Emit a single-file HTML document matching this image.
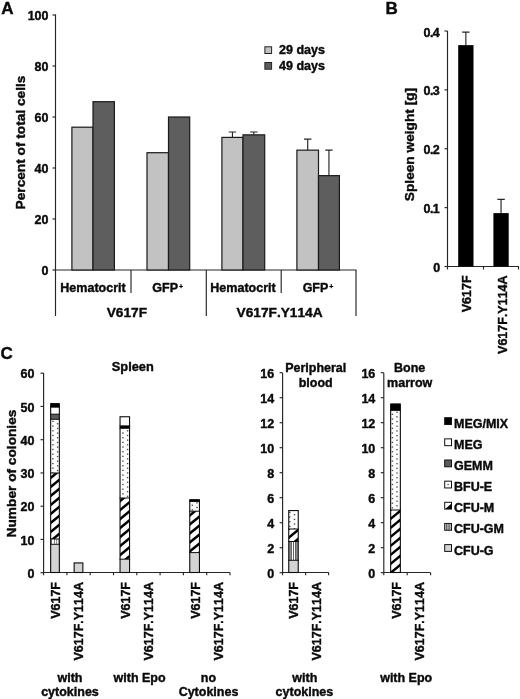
<!DOCTYPE html>
<html><head><meta charset="utf-8"><title>Figure</title>
<style>
html,body{margin:0;padding:0;background:#fff;}
body{width:520px;height:699px;overflow:hidden;}
svg{display:block;will-change:transform;}
text{font-family:"Liberation Sans",sans-serif;font-weight:bold;fill:#0a0a0a;stroke:#0a0a0a;stroke-width:0.4px;stroke-linejoin:round;font-kerning:none;}
.t{font-size:12.5px;}
.c{font-size:12.5px;}
.y{font-size:13.7px;}
.p{font-size:17px;}
.ax{stroke:#262626;stroke-width:1.15;fill:none;}
</style></head><body>
<svg width="520" height="699" viewBox="0 0 520 699">

<rect width="520" height="699" fill="#fff"/>

<text class="p" x="1.2" y="13.5">A</text>
<path class="ax" d="M55.5,14.5 V316"/>
<path class="ax" d="M55.5,270.0 H356.5"/>
<path class="ax" d="M52.5,270.0 H55.5"/>
<text class="t" x="48.5" y="275.2" text-anchor="end">0</text>
<path class="ax" d="M52.5,219.0 H55.5"/>
<text class="t" x="48.5" y="224.2" text-anchor="end">20</text>
<path class="ax" d="M52.5,168.0 H55.5"/>
<text class="t" x="48.5" y="173.2" text-anchor="end">40</text>
<path class="ax" d="M52.5,117.0 H55.5"/>
<text class="t" x="48.5" y="122.2" text-anchor="end">60</text>
<path class="ax" d="M52.5,66.0 H55.5"/>
<text class="t" x="48.5" y="71.2" text-anchor="end">80</text>
<path class="ax" d="M52.5,15.000000000000028 H55.5"/>
<text class="t" x="48.5" y="20.200000000000028" text-anchor="end">100</text>
<text class="y" transform="translate(24.9,142.5) rotate(-90)" text-anchor="middle">Percent of total cells</text>
<path class="ax" d="M131,270 V293 M206.3,270 V316 M281.2,270 V293 M356,270 V316"/>
<text class="c" x="93" y="291.5" text-anchor="middle">Hematocrit</text>
<text class="c" x="243" y="291.5" text-anchor="middle">Hematocrit</text>
<text class="c" x="165.2" y="291.5" text-anchor="middle">GFP</text>
<text class="c" style="font-size:7px;stroke-width:0.3px" x="179.0" y="289">+</text>
<text class="c" x="315.5" y="291.5" text-anchor="middle">GFP</text>
<text class="c" style="font-size:7px;stroke-width:0.3px" x="329.3" y="289">+</text>
<text class="c" style="font-size:13.7px" x="126.9" y="317.2" text-anchor="middle">V617F</text>
<text class="c" style="font-size:13.7px" x="279.6" y="317.2" text-anchor="middle">V617F.Y114A</text>
<rect x="71.9" y="127.20000000000002" width="21.10" height="142.79999999999998" fill="#c2c2c2" stroke="#1a1a1a" stroke-width="1.2"/>
<rect x="93.0" y="101.70000000000002" width="21.40" height="168.29999999999998" fill="#5e5e5e" stroke="#1a1a1a" stroke-width="1.2"/>
<rect x="147.0" y="152.7" width="21.50" height="117.30000000000001" fill="#c2c2c2" stroke="#1a1a1a" stroke-width="1.2"/>
<rect x="168.5" y="117.0" width="21.20" height="153.0" fill="#5e5e5e" stroke="#1a1a1a" stroke-width="1.2"/>
<path class="ax" d="M232.45,137.4 V132.04500000000002 M228.75,132.04500000000002 H236.15"/>
<rect x="221.9" y="137.4" width="21.10" height="132.6" fill="#c2c2c2" stroke="#1a1a1a" stroke-width="1.2"/>
<path class="ax" d="M253.85,134.85000000000002 V132.04500000000002 M250.15,132.04500000000002 H257.55"/>
<rect x="243.0" y="134.85000000000002" width="21.70" height="135.14999999999998" fill="#5e5e5e" stroke="#1a1a1a" stroke-width="1.2"/>
<path class="ax" d="M307.70,150.15 V139.185 M304.00,139.185 H311.40"/>
<rect x="296.9" y="150.15" width="21.60" height="119.85" fill="#c2c2c2" stroke="#1a1a1a" stroke-width="1.2"/>
<path class="ax" d="M328.95,175.65 V150.15 M325.25,150.15 H332.65"/>
<rect x="318.5" y="175.65" width="20.90" height="94.35" fill="#5e5e5e" stroke="#1a1a1a" stroke-width="1.2"/>
<rect x="264.9" y="46.8" width="6.7" height="6.7" fill="#c2c2c2" stroke="#222" stroke-width="1"/>
<rect x="264.9" y="62.5" width="6.7" height="6.7" fill="#5e5e5e" stroke="#222" stroke-width="1"/>
<text class="c" x="279" y="54.3">29 days</text>
<text class="c" x="279" y="70">49 days</text>
<text class="p" x="385.6" y="13.5">B</text>
<path class="ax" d="M447.5,31 V266.5"/>
<path class="ax" d="M447.5,266.5 H519"/>
<path class="ax" d="M444.5,266.5 H447.5"/>
<text class="t" x="440.3" y="272.0" text-anchor="end">0</text>
<path class="ax" d="M444.5,207.625 H447.5"/>
<text class="t" style="letter-spacing:-0.6px" x="439.2" y="213.125" text-anchor="end">0.1</text>
<path class="ax" d="M444.5,148.75 H447.5"/>
<text class="t" style="letter-spacing:-0.6px" x="439.2" y="154.25" text-anchor="end">0.2</text>
<path class="ax" d="M444.5,89.875 H447.5"/>
<text class="t" style="letter-spacing:-0.6px" x="439.2" y="95.375" text-anchor="end">0.3</text>
<path class="ax" d="M444.5,31.0 H447.5"/>
<text class="t" style="letter-spacing:-0.6px" x="439.2" y="36.5" text-anchor="end">0.4</text>
<path class="ax" d="M447.5,266.5 V269.5"/>
<path class="ax" d="M483.5,266.5 V269.5"/>
<path class="ax" d="M518.5,266.5 V269.5"/>
<text class="y" transform="translate(413.8,144.5) rotate(-90)" text-anchor="middle">Spleen weight [g]</text>
<path class="ax" d="M465.84999999999997,45.129999999999995 V32.17749999999998 M462.15,32.17749999999998 H469.54999999999995"/>
<rect x="458.2" y="45.129999999999995" width="15.3" height="221.37" fill="#000"/>
<path class="ax" d="M501.04999999999995,213.10037499999999 V199.3825 M497.34999999999997,199.3825 H504.74999999999994"/>
<rect x="493.4" y="213.10037499999999" width="15.3" height="53.399625000000015" fill="#000"/>
<text class="c" transform="translate(470.8,275.4) rotate(-90)" text-anchor="end">V617F</text>
<text class="c" transform="translate(506.5,275.4) rotate(-90)" text-anchor="end">V617F.Y114A</text>
<text class="p" x="0.6" y="359.3">C</text>
<path class="ax" d="M43.6,373 V572.5 H230"/>
<path class="ax" d="M40.5,572.7 H43.6"/>
<text class="t" x="34.5" y="577.9000000000001" text-anchor="end">0</text>
<path class="ax" d="M40.5,539.45 H43.6"/>
<text class="t" x="34.5" y="544.6500000000001" text-anchor="end">10</text>
<path class="ax" d="M40.5,506.2 H43.6"/>
<text class="t" x="34.5" y="511.4" text-anchor="end">20</text>
<path class="ax" d="M40.5,472.95 H43.6"/>
<text class="t" x="34.5" y="478.15" text-anchor="end">30</text>
<path class="ax" d="M40.5,439.7 H43.6"/>
<text class="t" x="34.5" y="444.9" text-anchor="end">40</text>
<path class="ax" d="M40.5,406.45 H43.6"/>
<text class="t" x="34.5" y="411.65" text-anchor="end">50</text>
<path class="ax" d="M40.5,373.2 H43.6"/>
<text class="t" x="34.5" y="378.4" text-anchor="end">60</text>
<path class="ax" d="M43.6,572.5 V575.2"/>
<path class="ax" d="M66.9,572.5 V575.2"/>
<path class="ax" d="M90.2,572.5 V575.2"/>
<path class="ax" d="M113.5,572.5 V575.2"/>
<path class="ax" d="M136.8,572.5 V575.2"/>
<path class="ax" d="M160.1,572.5 V575.2"/>
<path class="ax" d="M183.4,572.5 V575.2"/>
<path class="ax" d="M206.7,572.5 V575.2"/>
<path class="ax" d="M230.0,572.5 V575.2"/>
<text class="y" transform="translate(15.5,473.5) rotate(-90)" text-anchor="middle">Number of colonies</text>
<text class="c" style="font-size:12.8px" x="132.8" y="371.4" text-anchor="middle">Spleen</text>
<rect x="50.65" y="403.20" width="8.70" height="4.00" fill="#000"/>
<rect x="50.65" y="407.20" width="8.70" height="7.00" fill="#fff"/>
<rect x="50.65" y="414.20" width="8.70" height="5.10" fill="#5c5c5c"/>
<rect x="50.65" y="419.30" width="8.70" height="53.70" fill="#fdfdfd"/>
<clipPath id="c1"><rect x="50.65" y="419.30" width="8.70" height="53.70"/></clipPath><g clip-path="url(#c1)">
<rect x="52.20" y="420.75" width="1.4" height="1.3" fill="#4a4a4a"/>
<rect x="52.20" y="425.43" width="1.4" height="1.3" fill="#4a4a4a"/>
<rect x="52.20" y="430.11" width="1.4" height="1.3" fill="#4a4a4a"/>
<rect x="52.20" y="434.79" width="1.4" height="1.3" fill="#4a4a4a"/>
<rect x="52.20" y="439.47" width="1.4" height="1.3" fill="#4a4a4a"/>
<rect x="52.20" y="444.15" width="1.4" height="1.3" fill="#4a4a4a"/>
<rect x="52.20" y="448.83" width="1.4" height="1.3" fill="#4a4a4a"/>
<rect x="52.20" y="453.51" width="1.4" height="1.3" fill="#4a4a4a"/>
<rect x="52.20" y="458.19" width="1.4" height="1.3" fill="#4a4a4a"/>
<rect x="52.20" y="462.87" width="1.4" height="1.3" fill="#4a4a4a"/>
<rect x="52.20" y="467.55" width="1.4" height="1.3" fill="#4a4a4a"/>
<rect x="52.20" y="472.23" width="1.4" height="1.3" fill="#4a4a4a"/>
<rect x="56.90" y="418.42" width="1.4" height="1.3" fill="#4a4a4a"/>
<rect x="56.90" y="423.10" width="1.4" height="1.3" fill="#4a4a4a"/>
<rect x="56.90" y="427.78" width="1.4" height="1.3" fill="#4a4a4a"/>
<rect x="56.90" y="432.46" width="1.4" height="1.3" fill="#4a4a4a"/>
<rect x="56.90" y="437.14" width="1.4" height="1.3" fill="#4a4a4a"/>
<rect x="56.90" y="441.82" width="1.4" height="1.3" fill="#4a4a4a"/>
<rect x="56.90" y="446.50" width="1.4" height="1.3" fill="#4a4a4a"/>
<rect x="56.90" y="451.18" width="1.4" height="1.3" fill="#4a4a4a"/>
<rect x="56.90" y="455.86" width="1.4" height="1.3" fill="#4a4a4a"/>
<rect x="56.90" y="460.54" width="1.4" height="1.3" fill="#4a4a4a"/>
<rect x="56.90" y="465.22" width="1.4" height="1.3" fill="#4a4a4a"/>
<rect x="56.90" y="469.90" width="1.4" height="1.3" fill="#4a4a4a"/>
<rect x="47.55" y="418.42" width="1.4" height="1.3" fill="#4a4a4a"/>
<rect x="47.55" y="423.10" width="1.4" height="1.3" fill="#4a4a4a"/>
<rect x="47.55" y="427.78" width="1.4" height="1.3" fill="#4a4a4a"/>
<rect x="47.55" y="432.46" width="1.4" height="1.3" fill="#4a4a4a"/>
<rect x="47.55" y="437.14" width="1.4" height="1.3" fill="#4a4a4a"/>
<rect x="47.55" y="441.82" width="1.4" height="1.3" fill="#4a4a4a"/>
<rect x="47.55" y="446.50" width="1.4" height="1.3" fill="#4a4a4a"/>
<rect x="47.55" y="451.18" width="1.4" height="1.3" fill="#4a4a4a"/>
<rect x="47.55" y="455.86" width="1.4" height="1.3" fill="#4a4a4a"/>
<rect x="47.55" y="460.54" width="1.4" height="1.3" fill="#4a4a4a"/>
<rect x="47.55" y="465.22" width="1.4" height="1.3" fill="#4a4a4a"/>
<rect x="47.55" y="469.90" width="1.4" height="1.3" fill="#4a4a4a"/>
<rect x="61.55" y="420.75" width="1.4" height="1.3" fill="#4a4a4a"/>
<rect x="61.55" y="425.43" width="1.4" height="1.3" fill="#4a4a4a"/>
<rect x="61.55" y="430.11" width="1.4" height="1.3" fill="#4a4a4a"/>
<rect x="61.55" y="434.79" width="1.4" height="1.3" fill="#4a4a4a"/>
<rect x="61.55" y="439.47" width="1.4" height="1.3" fill="#4a4a4a"/>
<rect x="61.55" y="444.15" width="1.4" height="1.3" fill="#4a4a4a"/>
<rect x="61.55" y="448.83" width="1.4" height="1.3" fill="#4a4a4a"/>
<rect x="61.55" y="453.51" width="1.4" height="1.3" fill="#4a4a4a"/>
<rect x="61.55" y="458.19" width="1.4" height="1.3" fill="#4a4a4a"/>
<rect x="61.55" y="462.87" width="1.4" height="1.3" fill="#4a4a4a"/>
<rect x="61.55" y="467.55" width="1.4" height="1.3" fill="#4a4a4a"/>
<rect x="61.55" y="472.23" width="1.4" height="1.3" fill="#4a4a4a"/>
</g>
<rect x="50.65" y="473.00" width="8.70" height="66.00" fill="#fff"/>
<clipPath id="c2"><rect x="50.65" y="473.00" width="8.70" height="66.00"/></clipPath><g clip-path="url(#c2)">
<path d="M50.10,449.77 L59.90,441.74 L59.90,444.94 L50.10,452.97 Z" fill="#000"/>
<path d="M50.10,458.77 L59.90,450.74 L59.90,453.94 L50.10,461.97 Z" fill="#000"/>
<path d="M50.10,467.77 L59.90,459.74 L59.90,462.94 L50.10,470.97 Z" fill="#000"/>
<path d="M50.10,476.77 L59.90,468.74 L59.90,471.94 L50.10,479.97 Z" fill="#000"/>
<path d="M50.10,485.77 L59.90,477.74 L59.90,480.94 L50.10,488.97 Z" fill="#000"/>
<path d="M50.10,494.77 L59.90,486.74 L59.90,489.94 L50.10,497.97 Z" fill="#000"/>
<path d="M50.10,503.77 L59.90,495.74 L59.90,498.94 L50.10,506.97 Z" fill="#000"/>
<path d="M50.10,512.77 L59.90,504.74 L59.90,507.94 L50.10,515.97 Z" fill="#000"/>
<path d="M50.10,521.77 L59.90,513.74 L59.90,516.94 L50.10,524.97 Z" fill="#000"/>
<path d="M50.10,530.77 L59.90,522.74 L59.90,525.94 L50.10,533.97 Z" fill="#000"/>
<path d="M50.10,539.77 L59.90,531.74 L59.90,534.94 L50.10,542.97 Z" fill="#000"/>
<path d="M50.10,548.77 L59.90,540.74 L59.90,543.94 L50.10,551.97 Z" fill="#000"/>
<path d="M50.10,557.77 L59.90,549.74 L59.90,552.94 L50.10,560.97 Z" fill="#000"/>
</g>
<rect x="50.65" y="539.00" width="8.70" height="5.30" fill="#fff"/>
<clipPath id="c3"><rect x="50.65" y="539.00" width="8.70" height="5.30"/></clipPath><g clip-path="url(#c3)">
<rect x="50.65" y="539.00" width="8.70" height="5.30" fill="#fff"/>
<rect x="51.40" y="539.00" width="0.6" height="5.30" fill="#333"/>
<rect x="54.40" y="539.00" width="0.6" height="5.30" fill="#333"/>
<rect x="56.50" y="539.00" width="0.6" height="5.30" fill="#333"/>
<rect x="58.70" y="539.00" width="0.6" height="5.30" fill="#333"/>
</g>
<rect x="50.65" y="544.30" width="8.70" height="28.20" fill="#d3d3d3"/>
<rect x="50.65" y="403.75" width="8.70" height="168.75" fill="none" stroke="#0c0c0c" stroke-width="1.1"/>
<path d="M50.10,407.20 H59.90" stroke="#0c0c0c" stroke-width="1.0"/>
<path d="M50.10,414.20 H59.90" stroke="#0c0c0c" stroke-width="1.0"/>
<path d="M50.10,419.30 H59.90" stroke="#0c0c0c" stroke-width="1.0"/>
<path d="M50.10,473.00 H59.90" stroke="#0c0c0c" stroke-width="1.0"/>
<path d="M50.10,539.00 H59.90" stroke="#0c0c0c" stroke-width="1.0"/>
<path d="M50.10,544.30 H59.90" stroke="#0c0c0c" stroke-width="1.0"/>
<rect x="74.15" y="562.40" width="8.70" height="10.10" fill="#d3d3d3"/>
<rect x="74.15" y="562.95" width="8.70" height="9.55" fill="none" stroke="#0c0c0c" stroke-width="1.1"/>
<rect x="120.05" y="416.20" width="9.50" height="9.70" fill="#fff"/>
<rect x="120.05" y="425.90" width="9.50" height="2.40" fill="#000"/>
<rect x="120.05" y="428.30" width="9.50" height="69.70" fill="#fdfdfd"/>
<clipPath id="c4"><rect x="120.05" y="428.30" width="9.50" height="69.70"/></clipPath><g clip-path="url(#c4)">
<rect x="122.20" y="427.67" width="1.4" height="1.3" fill="#4a4a4a"/>
<rect x="122.20" y="432.35" width="1.4" height="1.3" fill="#4a4a4a"/>
<rect x="122.20" y="437.03" width="1.4" height="1.3" fill="#4a4a4a"/>
<rect x="122.20" y="441.71" width="1.4" height="1.3" fill="#4a4a4a"/>
<rect x="122.20" y="446.39" width="1.4" height="1.3" fill="#4a4a4a"/>
<rect x="122.20" y="451.07" width="1.4" height="1.3" fill="#4a4a4a"/>
<rect x="122.20" y="455.75" width="1.4" height="1.3" fill="#4a4a4a"/>
<rect x="122.20" y="460.43" width="1.4" height="1.3" fill="#4a4a4a"/>
<rect x="122.20" y="465.11" width="1.4" height="1.3" fill="#4a4a4a"/>
<rect x="122.20" y="469.79" width="1.4" height="1.3" fill="#4a4a4a"/>
<rect x="122.20" y="474.47" width="1.4" height="1.3" fill="#4a4a4a"/>
<rect x="122.20" y="479.15" width="1.4" height="1.3" fill="#4a4a4a"/>
<rect x="122.20" y="483.83" width="1.4" height="1.3" fill="#4a4a4a"/>
<rect x="122.20" y="488.51" width="1.4" height="1.3" fill="#4a4a4a"/>
<rect x="122.20" y="493.19" width="1.4" height="1.3" fill="#4a4a4a"/>
<rect x="122.20" y="497.87" width="1.4" height="1.3" fill="#4a4a4a"/>
<rect x="126.90" y="430.15" width="1.4" height="1.3" fill="#4a4a4a"/>
<rect x="126.90" y="434.83" width="1.4" height="1.3" fill="#4a4a4a"/>
<rect x="126.90" y="439.51" width="1.4" height="1.3" fill="#4a4a4a"/>
<rect x="126.90" y="444.19" width="1.4" height="1.3" fill="#4a4a4a"/>
<rect x="126.90" y="448.87" width="1.4" height="1.3" fill="#4a4a4a"/>
<rect x="126.90" y="453.55" width="1.4" height="1.3" fill="#4a4a4a"/>
<rect x="126.90" y="458.23" width="1.4" height="1.3" fill="#4a4a4a"/>
<rect x="126.90" y="462.91" width="1.4" height="1.3" fill="#4a4a4a"/>
<rect x="126.90" y="467.59" width="1.4" height="1.3" fill="#4a4a4a"/>
<rect x="126.90" y="472.27" width="1.4" height="1.3" fill="#4a4a4a"/>
<rect x="126.90" y="476.95" width="1.4" height="1.3" fill="#4a4a4a"/>
<rect x="126.90" y="481.63" width="1.4" height="1.3" fill="#4a4a4a"/>
<rect x="126.90" y="486.31" width="1.4" height="1.3" fill="#4a4a4a"/>
<rect x="126.90" y="490.99" width="1.4" height="1.3" fill="#4a4a4a"/>
<rect x="126.90" y="495.67" width="1.4" height="1.3" fill="#4a4a4a"/>
<rect x="117.55" y="430.15" width="1.4" height="1.3" fill="#4a4a4a"/>
<rect x="117.55" y="434.83" width="1.4" height="1.3" fill="#4a4a4a"/>
<rect x="117.55" y="439.51" width="1.4" height="1.3" fill="#4a4a4a"/>
<rect x="117.55" y="444.19" width="1.4" height="1.3" fill="#4a4a4a"/>
<rect x="117.55" y="448.87" width="1.4" height="1.3" fill="#4a4a4a"/>
<rect x="117.55" y="453.55" width="1.4" height="1.3" fill="#4a4a4a"/>
<rect x="117.55" y="458.23" width="1.4" height="1.3" fill="#4a4a4a"/>
<rect x="117.55" y="462.91" width="1.4" height="1.3" fill="#4a4a4a"/>
<rect x="117.55" y="467.59" width="1.4" height="1.3" fill="#4a4a4a"/>
<rect x="117.55" y="472.27" width="1.4" height="1.3" fill="#4a4a4a"/>
<rect x="117.55" y="476.95" width="1.4" height="1.3" fill="#4a4a4a"/>
<rect x="117.55" y="481.63" width="1.4" height="1.3" fill="#4a4a4a"/>
<rect x="117.55" y="486.31" width="1.4" height="1.3" fill="#4a4a4a"/>
<rect x="117.55" y="490.99" width="1.4" height="1.3" fill="#4a4a4a"/>
<rect x="117.55" y="495.67" width="1.4" height="1.3" fill="#4a4a4a"/>
<rect x="131.55" y="427.67" width="1.4" height="1.3" fill="#4a4a4a"/>
<rect x="131.55" y="432.35" width="1.4" height="1.3" fill="#4a4a4a"/>
<rect x="131.55" y="437.03" width="1.4" height="1.3" fill="#4a4a4a"/>
<rect x="131.55" y="441.71" width="1.4" height="1.3" fill="#4a4a4a"/>
<rect x="131.55" y="446.39" width="1.4" height="1.3" fill="#4a4a4a"/>
<rect x="131.55" y="451.07" width="1.4" height="1.3" fill="#4a4a4a"/>
<rect x="131.55" y="455.75" width="1.4" height="1.3" fill="#4a4a4a"/>
<rect x="131.55" y="460.43" width="1.4" height="1.3" fill="#4a4a4a"/>
<rect x="131.55" y="465.11" width="1.4" height="1.3" fill="#4a4a4a"/>
<rect x="131.55" y="469.79" width="1.4" height="1.3" fill="#4a4a4a"/>
<rect x="131.55" y="474.47" width="1.4" height="1.3" fill="#4a4a4a"/>
<rect x="131.55" y="479.15" width="1.4" height="1.3" fill="#4a4a4a"/>
<rect x="131.55" y="483.83" width="1.4" height="1.3" fill="#4a4a4a"/>
<rect x="131.55" y="488.51" width="1.4" height="1.3" fill="#4a4a4a"/>
<rect x="131.55" y="493.19" width="1.4" height="1.3" fill="#4a4a4a"/>
<rect x="131.55" y="497.87" width="1.4" height="1.3" fill="#4a4a4a"/>
</g>
<rect x="120.05" y="498.00" width="9.50" height="61.20" fill="#fff"/>
<clipPath id="c5"><rect x="120.05" y="498.00" width="9.50" height="61.20"/></clipPath><g clip-path="url(#c5)">
<path d="M119.50,472.86 L130.10,464.16 L130.10,467.36 L119.50,476.06 Z" fill="#000"/>
<path d="M119.50,481.86 L130.10,473.16 L130.10,476.36 L119.50,485.06 Z" fill="#000"/>
<path d="M119.50,490.86 L130.10,482.16 L130.10,485.36 L119.50,494.06 Z" fill="#000"/>
<path d="M119.50,499.86 L130.10,491.16 L130.10,494.36 L119.50,503.06 Z" fill="#000"/>
<path d="M119.50,508.86 L130.10,500.16 L130.10,503.36 L119.50,512.06 Z" fill="#000"/>
<path d="M119.50,517.86 L130.10,509.16 L130.10,512.36 L119.50,521.06 Z" fill="#000"/>
<path d="M119.50,526.86 L130.10,518.16 L130.10,521.36 L119.50,530.06 Z" fill="#000"/>
<path d="M119.50,535.86 L130.10,527.16 L130.10,530.36 L119.50,539.06 Z" fill="#000"/>
<path d="M119.50,544.86 L130.10,536.16 L130.10,539.36 L119.50,548.06 Z" fill="#000"/>
<path d="M119.50,553.86 L130.10,545.16 L130.10,548.36 L119.50,557.06 Z" fill="#000"/>
<path d="M119.50,562.86 L130.10,554.16 L130.10,557.36 L119.50,566.06 Z" fill="#000"/>
<path d="M119.50,571.86 L130.10,563.16 L130.10,566.36 L119.50,575.06 Z" fill="#000"/>
</g>
<rect x="120.05" y="559.20" width="9.50" height="13.30" fill="#d3d3d3"/>
<rect x="120.05" y="416.75" width="9.50" height="155.75" fill="none" stroke="#0c0c0c" stroke-width="1.1"/>
<path d="M119.50,425.90 H130.10" stroke="#0c0c0c" stroke-width="1.0"/>
<path d="M119.50,428.30 H130.10" stroke="#0c0c0c" stroke-width="1.0"/>
<path d="M119.50,498.00 H130.10" stroke="#0c0c0c" stroke-width="1.0"/>
<path d="M119.50,559.20 H130.10" stroke="#0c0c0c" stroke-width="1.0"/>
<rect x="189.75" y="499.30" width="9.70" height="2.20" fill="#000"/>
<rect x="189.75" y="501.50" width="9.70" height="9.70" fill="#fdfdfd"/>
<clipPath id="c6"><rect x="189.75" y="501.50" width="9.70" height="9.70"/></clipPath><g clip-path="url(#c6)">
<rect x="191.60" y="499.97" width="1.4" height="1.3" fill="#4a4a4a"/>
<rect x="191.60" y="504.65" width="1.4" height="1.3" fill="#4a4a4a"/>
<rect x="191.60" y="509.33" width="1.4" height="1.3" fill="#4a4a4a"/>
<rect x="196.30" y="502.17" width="1.4" height="1.3" fill="#4a4a4a"/>
<rect x="196.30" y="506.85" width="1.4" height="1.3" fill="#4a4a4a"/>
<rect x="196.30" y="511.53" width="1.4" height="1.3" fill="#4a4a4a"/>
<rect x="186.95" y="502.17" width="1.4" height="1.3" fill="#4a4a4a"/>
<rect x="186.95" y="506.85" width="1.4" height="1.3" fill="#4a4a4a"/>
<rect x="186.95" y="511.53" width="1.4" height="1.3" fill="#4a4a4a"/>
<rect x="200.95" y="499.97" width="1.4" height="1.3" fill="#4a4a4a"/>
<rect x="200.95" y="504.65" width="1.4" height="1.3" fill="#4a4a4a"/>
<rect x="200.95" y="509.33" width="1.4" height="1.3" fill="#4a4a4a"/>
</g>
<rect x="189.75" y="511.20" width="9.70" height="41.40" fill="#fff"/>
<clipPath id="c7"><rect x="189.75" y="511.20" width="9.70" height="41.40"/></clipPath><g clip-path="url(#c7)">
<path d="M189.20,487.30 L200.00,478.45 L200.00,481.65 L189.20,490.50 Z" fill="#000"/>
<path d="M189.20,496.30 L200.00,487.45 L200.00,490.65 L189.20,499.50 Z" fill="#000"/>
<path d="M189.20,505.30 L200.00,496.45 L200.00,499.65 L189.20,508.50 Z" fill="#000"/>
<path d="M189.20,514.30 L200.00,505.45 L200.00,508.65 L189.20,517.50 Z" fill="#000"/>
<path d="M189.20,523.30 L200.00,514.45 L200.00,517.65 L189.20,526.50 Z" fill="#000"/>
<path d="M189.20,532.30 L200.00,523.45 L200.00,526.65 L189.20,535.50 Z" fill="#000"/>
<path d="M189.20,541.30 L200.00,532.45 L200.00,535.65 L189.20,544.50 Z" fill="#000"/>
<path d="M189.20,550.30 L200.00,541.45 L200.00,544.65 L189.20,553.50 Z" fill="#000"/>
<path d="M189.20,559.30 L200.00,550.45 L200.00,553.65 L189.20,562.50 Z" fill="#000"/>
<path d="M189.20,568.30 L200.00,559.45 L200.00,562.65 L189.20,571.50 Z" fill="#000"/>
</g>
<rect x="189.75" y="552.60" width="9.70" height="19.90" fill="#d3d3d3"/>
<rect x="189.75" y="499.85" width="9.70" height="72.65" fill="none" stroke="#0c0c0c" stroke-width="1.1"/>
<path d="M189.20,501.50 H200.00" stroke="#0c0c0c" stroke-width="1.0"/>
<path d="M189.20,511.20 H200.00" stroke="#0c0c0c" stroke-width="1.0"/>
<path d="M189.20,552.60 H200.00" stroke="#0c0c0c" stroke-width="1.0"/>
<text class="c" transform="translate(60.0,582) rotate(-90)" text-anchor="end">V617F</text>
<text class="c" transform="translate(83.4,582) rotate(-90)" text-anchor="end">V617F.Y114A</text>
<text class="c" transform="translate(130.0,582) rotate(-90)" text-anchor="end">V617F</text>
<text class="c" transform="translate(153.3,582) rotate(-90)" text-anchor="end">V617F.Y114A</text>
<text class="c" transform="translate(199.9,582) rotate(-90)" text-anchor="end">V617F</text>
<text class="c" transform="translate(223.2,582) rotate(-90)" text-anchor="end">V617F.Y114A</text>
<text class="c" x="70" y="681.7" text-anchor="middle">with</text>
<text class="c" x="70" y="695.5" text-anchor="middle">cytokines</text>
<text class="c" x="139.6" y="681.7" text-anchor="middle">with Epo</text>
<text class="c" x="208.5" y="681.7" text-anchor="middle">no</text>
<text class="c" x="208.5" y="695.5" text-anchor="middle">Cytokines</text>
<path class="ax" d="M282.6,373 V572.5 H328.8"/>
<path class="ax" d="M279.6,572.7 H282.6"/>
<text class="t" x="274.1" y="577.9000000000001" text-anchor="end">0</text>
<path class="ax" d="M279.6,547.7 H282.6"/>
<text class="t" x="274.1" y="552.9000000000001" text-anchor="end">2</text>
<path class="ax" d="M279.6,522.7 H282.6"/>
<text class="t" x="274.1" y="527.9000000000001" text-anchor="end">4</text>
<path class="ax" d="M279.6,497.7 H282.6"/>
<text class="t" x="274.1" y="502.9" text-anchor="end">6</text>
<path class="ax" d="M279.6,472.7 H282.6"/>
<text class="t" x="274.1" y="477.9" text-anchor="end">8</text>
<path class="ax" d="M279.6,447.7 H282.6"/>
<text class="t" x="274.1" y="452.9" text-anchor="end">10</text>
<path class="ax" d="M279.6,422.7 H282.6"/>
<text class="t" x="274.1" y="427.9" text-anchor="end">12</text>
<path class="ax" d="M279.6,397.7 H282.6"/>
<text class="t" x="274.1" y="402.9" text-anchor="end">14</text>
<path class="ax" d="M279.6,372.7 H282.6"/>
<text class="t" x="274.1" y="377.9" text-anchor="end">16</text>
<path class="ax" d="M282.6,572.5 V575.2"/>
<path class="ax" d="M305.6,572.5 V575.2"/>
<path class="ax" d="M328.6,572.5 V575.2"/>
<text class="c" x="315.7" y="372" text-anchor="middle">Peripheral</text>
<text class="c" x="315.7" y="387" text-anchor="middle">blood</text>
<text class="c" transform="translate(298.2,582) rotate(-90)" text-anchor="end">V617F</text>
<text class="c" transform="translate(321.0,582) rotate(-90)" text-anchor="end">V617F.Y114A</text>
<text class="c" x="304.8" y="681.7" text-anchor="middle">with</text>
<text class="c" x="304.4" y="695.5" text-anchor="middle">cytokines</text>
<rect x="288.75" y="510.00" width="9.50" height="19.00" fill="#fdfdfd"/>
<clipPath id="c8"><rect x="288.75" y="510.00" width="9.50" height="19.00"/></clipPath><g clip-path="url(#c8)">
<rect x="289.10" y="511.75" width="1.4" height="1.3" fill="#4a4a4a"/>
<rect x="289.10" y="516.43" width="1.4" height="1.3" fill="#4a4a4a"/>
<rect x="289.10" y="521.11" width="1.4" height="1.3" fill="#4a4a4a"/>
<rect x="289.10" y="525.79" width="1.4" height="1.3" fill="#4a4a4a"/>
<rect x="293.80" y="509.37" width="1.4" height="1.3" fill="#4a4a4a"/>
<rect x="293.80" y="514.05" width="1.4" height="1.3" fill="#4a4a4a"/>
<rect x="293.80" y="518.73" width="1.4" height="1.3" fill="#4a4a4a"/>
<rect x="293.80" y="523.41" width="1.4" height="1.3" fill="#4a4a4a"/>
<rect x="293.80" y="528.09" width="1.4" height="1.3" fill="#4a4a4a"/>
<rect x="284.45" y="509.37" width="1.4" height="1.3" fill="#4a4a4a"/>
<rect x="284.45" y="514.05" width="1.4" height="1.3" fill="#4a4a4a"/>
<rect x="284.45" y="518.73" width="1.4" height="1.3" fill="#4a4a4a"/>
<rect x="284.45" y="523.41" width="1.4" height="1.3" fill="#4a4a4a"/>
<rect x="284.45" y="528.09" width="1.4" height="1.3" fill="#4a4a4a"/>
<rect x="298.45" y="511.75" width="1.4" height="1.3" fill="#4a4a4a"/>
<rect x="298.45" y="516.43" width="1.4" height="1.3" fill="#4a4a4a"/>
<rect x="298.45" y="521.11" width="1.4" height="1.3" fill="#4a4a4a"/>
<rect x="298.45" y="525.79" width="1.4" height="1.3" fill="#4a4a4a"/>
</g>
<rect x="288.75" y="529.00" width="9.50" height="12.50" fill="#fff"/>
<clipPath id="c9"><rect x="288.75" y="529.00" width="9.50" height="12.50"/></clipPath><g clip-path="url(#c9)">
<path d="M288.20,509.56 L298.80,500.86 L298.80,504.06 L288.20,512.76 Z" fill="#000"/>
<path d="M288.20,518.56 L298.80,509.86 L298.80,513.06 L288.20,521.76 Z" fill="#000"/>
<path d="M288.20,527.56 L298.80,518.86 L298.80,522.06 L288.20,530.76 Z" fill="#000"/>
<path d="M288.20,536.56 L298.80,527.86 L298.80,531.06 L288.20,539.76 Z" fill="#000"/>
<path d="M288.20,545.56 L298.80,536.86 L298.80,540.06 L288.20,548.76 Z" fill="#000"/>
<path d="M288.20,554.56 L298.80,545.86 L298.80,549.06 L288.20,557.76 Z" fill="#000"/>
</g>
<rect x="288.75" y="541.50" width="9.50" height="18.80" fill="#fff"/>
<clipPath id="c10"><rect x="288.75" y="541.50" width="9.50" height="18.80"/></clipPath><g clip-path="url(#c10)">
<rect x="288.75" y="541.50" width="9.50" height="18.80" fill="#8c8c8c"/>
<rect x="291.60" y="541.50" width="1.40" height="18.80" fill="#fff"/>
<rect x="293.80" y="541.50" width="1.40" height="18.80" fill="#fff"/>
<rect x="291.00" y="541.50" width="0.6" height="18.80" fill="#333"/>
<rect x="293.10" y="541.50" width="0.6" height="18.80" fill="#333"/>
<rect x="295.20" y="541.50" width="0.6" height="18.80" fill="#333"/>
</g>
<rect x="288.75" y="560.30" width="9.50" height="12.20" fill="#d3d3d3"/>
<rect x="288.75" y="510.55" width="9.50" height="61.95" fill="none" stroke="#0c0c0c" stroke-width="1.1"/>
<path d="M288.20,529.00 H298.80" stroke="#0c0c0c" stroke-width="1.0"/>
<path d="M288.20,541.50 H298.80" stroke="#0c0c0c" stroke-width="1.0"/>
<path d="M288.20,560.30 H298.80" stroke="#0c0c0c" stroke-width="1.0"/>
<path class="ax" d="M383.8,373 V572.5 H430.3"/>
<path class="ax" d="M380.8,572.7 H383.8"/>
<text class="t" x="375.3" y="577.9000000000001" text-anchor="end">0</text>
<path class="ax" d="M380.8,547.7 H383.8"/>
<text class="t" x="375.3" y="552.9000000000001" text-anchor="end">2</text>
<path class="ax" d="M380.8,522.7 H383.8"/>
<text class="t" x="375.3" y="527.9000000000001" text-anchor="end">4</text>
<path class="ax" d="M380.8,497.7 H383.8"/>
<text class="t" x="375.3" y="502.9" text-anchor="end">6</text>
<path class="ax" d="M380.8,472.7 H383.8"/>
<text class="t" x="375.3" y="477.9" text-anchor="end">8</text>
<path class="ax" d="M380.8,447.7 H383.8"/>
<text class="t" x="375.3" y="452.9" text-anchor="end">10</text>
<path class="ax" d="M380.8,422.7 H383.8"/>
<text class="t" x="375.3" y="427.9" text-anchor="end">12</text>
<path class="ax" d="M380.8,397.7 H383.8"/>
<text class="t" x="375.3" y="402.9" text-anchor="end">14</text>
<path class="ax" d="M380.8,372.7 H383.8"/>
<text class="t" x="375.3" y="377.9" text-anchor="end">16</text>
<path class="ax" d="M383.8,572.5 V575.2"/>
<path class="ax" d="M407.2,572.5 V575.2"/>
<path class="ax" d="M430.6,572.5 V575.2"/>
<text class="c" x="409.7" y="372" text-anchor="middle">Bone</text>
<text class="c" x="409.7" y="387" text-anchor="middle">marrow</text>
<text class="c" transform="translate(400.6,582) rotate(-90)" text-anchor="end">V617F</text>
<text class="c" transform="translate(423.9,582) rotate(-90)" text-anchor="end">V617F.Y114A</text>
<text class="c" x="406.2" y="681.7" text-anchor="middle">with Epo</text>
<rect x="390.65" y="403.60" width="9.70" height="6.80" fill="#000"/>
<rect x="390.65" y="410.40" width="9.70" height="99.60" fill="#fdfdfd"/>
<clipPath id="c11"><rect x="390.65" y="410.40" width="9.70" height="99.60"/></clipPath><g clip-path="url(#c11)">
<rect x="391.70" y="408.97" width="1.4" height="1.3" fill="#4a4a4a"/>
<rect x="391.70" y="413.65" width="1.4" height="1.3" fill="#4a4a4a"/>
<rect x="391.70" y="418.33" width="1.4" height="1.3" fill="#4a4a4a"/>
<rect x="391.70" y="423.01" width="1.4" height="1.3" fill="#4a4a4a"/>
<rect x="391.70" y="427.69" width="1.4" height="1.3" fill="#4a4a4a"/>
<rect x="391.70" y="432.37" width="1.4" height="1.3" fill="#4a4a4a"/>
<rect x="391.70" y="437.05" width="1.4" height="1.3" fill="#4a4a4a"/>
<rect x="391.70" y="441.73" width="1.4" height="1.3" fill="#4a4a4a"/>
<rect x="391.70" y="446.41" width="1.4" height="1.3" fill="#4a4a4a"/>
<rect x="391.70" y="451.09" width="1.4" height="1.3" fill="#4a4a4a"/>
<rect x="391.70" y="455.77" width="1.4" height="1.3" fill="#4a4a4a"/>
<rect x="391.70" y="460.45" width="1.4" height="1.3" fill="#4a4a4a"/>
<rect x="391.70" y="465.13" width="1.4" height="1.3" fill="#4a4a4a"/>
<rect x="391.70" y="469.81" width="1.4" height="1.3" fill="#4a4a4a"/>
<rect x="391.70" y="474.49" width="1.4" height="1.3" fill="#4a4a4a"/>
<rect x="391.70" y="479.17" width="1.4" height="1.3" fill="#4a4a4a"/>
<rect x="391.70" y="483.85" width="1.4" height="1.3" fill="#4a4a4a"/>
<rect x="391.70" y="488.53" width="1.4" height="1.3" fill="#4a4a4a"/>
<rect x="391.70" y="493.21" width="1.4" height="1.3" fill="#4a4a4a"/>
<rect x="391.70" y="497.89" width="1.4" height="1.3" fill="#4a4a4a"/>
<rect x="391.70" y="502.57" width="1.4" height="1.3" fill="#4a4a4a"/>
<rect x="391.70" y="507.25" width="1.4" height="1.3" fill="#4a4a4a"/>
<rect x="396.30" y="411.55" width="1.4" height="1.3" fill="#4a4a4a"/>
<rect x="396.30" y="416.23" width="1.4" height="1.3" fill="#4a4a4a"/>
<rect x="396.30" y="420.91" width="1.4" height="1.3" fill="#4a4a4a"/>
<rect x="396.30" y="425.59" width="1.4" height="1.3" fill="#4a4a4a"/>
<rect x="396.30" y="430.27" width="1.4" height="1.3" fill="#4a4a4a"/>
<rect x="396.30" y="434.95" width="1.4" height="1.3" fill="#4a4a4a"/>
<rect x="396.30" y="439.63" width="1.4" height="1.3" fill="#4a4a4a"/>
<rect x="396.30" y="444.31" width="1.4" height="1.3" fill="#4a4a4a"/>
<rect x="396.30" y="448.99" width="1.4" height="1.3" fill="#4a4a4a"/>
<rect x="396.30" y="453.67" width="1.4" height="1.3" fill="#4a4a4a"/>
<rect x="396.30" y="458.35" width="1.4" height="1.3" fill="#4a4a4a"/>
<rect x="396.30" y="463.03" width="1.4" height="1.3" fill="#4a4a4a"/>
<rect x="396.30" y="467.71" width="1.4" height="1.3" fill="#4a4a4a"/>
<rect x="396.30" y="472.39" width="1.4" height="1.3" fill="#4a4a4a"/>
<rect x="396.30" y="477.07" width="1.4" height="1.3" fill="#4a4a4a"/>
<rect x="396.30" y="481.75" width="1.4" height="1.3" fill="#4a4a4a"/>
<rect x="396.30" y="486.43" width="1.4" height="1.3" fill="#4a4a4a"/>
<rect x="396.30" y="491.11" width="1.4" height="1.3" fill="#4a4a4a"/>
<rect x="396.30" y="495.79" width="1.4" height="1.3" fill="#4a4a4a"/>
<rect x="396.30" y="500.47" width="1.4" height="1.3" fill="#4a4a4a"/>
<rect x="396.30" y="505.15" width="1.4" height="1.3" fill="#4a4a4a"/>
<rect x="396.30" y="509.83" width="1.4" height="1.3" fill="#4a4a4a"/>
<rect x="387.05" y="411.55" width="1.4" height="1.3" fill="#4a4a4a"/>
<rect x="387.05" y="416.23" width="1.4" height="1.3" fill="#4a4a4a"/>
<rect x="387.05" y="420.91" width="1.4" height="1.3" fill="#4a4a4a"/>
<rect x="387.05" y="425.59" width="1.4" height="1.3" fill="#4a4a4a"/>
<rect x="387.05" y="430.27" width="1.4" height="1.3" fill="#4a4a4a"/>
<rect x="387.05" y="434.95" width="1.4" height="1.3" fill="#4a4a4a"/>
<rect x="387.05" y="439.63" width="1.4" height="1.3" fill="#4a4a4a"/>
<rect x="387.05" y="444.31" width="1.4" height="1.3" fill="#4a4a4a"/>
<rect x="387.05" y="448.99" width="1.4" height="1.3" fill="#4a4a4a"/>
<rect x="387.05" y="453.67" width="1.4" height="1.3" fill="#4a4a4a"/>
<rect x="387.05" y="458.35" width="1.4" height="1.3" fill="#4a4a4a"/>
<rect x="387.05" y="463.03" width="1.4" height="1.3" fill="#4a4a4a"/>
<rect x="387.05" y="467.71" width="1.4" height="1.3" fill="#4a4a4a"/>
<rect x="387.05" y="472.39" width="1.4" height="1.3" fill="#4a4a4a"/>
<rect x="387.05" y="477.07" width="1.4" height="1.3" fill="#4a4a4a"/>
<rect x="387.05" y="481.75" width="1.4" height="1.3" fill="#4a4a4a"/>
<rect x="387.05" y="486.43" width="1.4" height="1.3" fill="#4a4a4a"/>
<rect x="387.05" y="491.11" width="1.4" height="1.3" fill="#4a4a4a"/>
<rect x="387.05" y="495.79" width="1.4" height="1.3" fill="#4a4a4a"/>
<rect x="387.05" y="500.47" width="1.4" height="1.3" fill="#4a4a4a"/>
<rect x="387.05" y="505.15" width="1.4" height="1.3" fill="#4a4a4a"/>
<rect x="387.05" y="509.83" width="1.4" height="1.3" fill="#4a4a4a"/>
<rect x="400.95" y="408.97" width="1.4" height="1.3" fill="#4a4a4a"/>
<rect x="400.95" y="413.65" width="1.4" height="1.3" fill="#4a4a4a"/>
<rect x="400.95" y="418.33" width="1.4" height="1.3" fill="#4a4a4a"/>
<rect x="400.95" y="423.01" width="1.4" height="1.3" fill="#4a4a4a"/>
<rect x="400.95" y="427.69" width="1.4" height="1.3" fill="#4a4a4a"/>
<rect x="400.95" y="432.37" width="1.4" height="1.3" fill="#4a4a4a"/>
<rect x="400.95" y="437.05" width="1.4" height="1.3" fill="#4a4a4a"/>
<rect x="400.95" y="441.73" width="1.4" height="1.3" fill="#4a4a4a"/>
<rect x="400.95" y="446.41" width="1.4" height="1.3" fill="#4a4a4a"/>
<rect x="400.95" y="451.09" width="1.4" height="1.3" fill="#4a4a4a"/>
<rect x="400.95" y="455.77" width="1.4" height="1.3" fill="#4a4a4a"/>
<rect x="400.95" y="460.45" width="1.4" height="1.3" fill="#4a4a4a"/>
<rect x="400.95" y="465.13" width="1.4" height="1.3" fill="#4a4a4a"/>
<rect x="400.95" y="469.81" width="1.4" height="1.3" fill="#4a4a4a"/>
<rect x="400.95" y="474.49" width="1.4" height="1.3" fill="#4a4a4a"/>
<rect x="400.95" y="479.17" width="1.4" height="1.3" fill="#4a4a4a"/>
<rect x="400.95" y="483.85" width="1.4" height="1.3" fill="#4a4a4a"/>
<rect x="400.95" y="488.53" width="1.4" height="1.3" fill="#4a4a4a"/>
<rect x="400.95" y="493.21" width="1.4" height="1.3" fill="#4a4a4a"/>
<rect x="400.95" y="497.89" width="1.4" height="1.3" fill="#4a4a4a"/>
<rect x="400.95" y="502.57" width="1.4" height="1.3" fill="#4a4a4a"/>
<rect x="400.95" y="507.25" width="1.4" height="1.3" fill="#4a4a4a"/>
</g>
<rect x="390.65" y="510.00" width="9.70" height="62.50" fill="#fff"/>
<clipPath id="c12"><rect x="390.65" y="510.00" width="9.70" height="62.50"/></clipPath><g clip-path="url(#c12)">
<path d="M390.10,490.64 L400.90,481.78 L400.90,484.98 L390.10,493.84 Z" fill="#000"/>
<path d="M390.10,499.64 L400.90,490.78 L400.90,493.98 L390.10,502.84 Z" fill="#000"/>
<path d="M390.10,508.64 L400.90,499.78 L400.90,502.98 L390.10,511.84 Z" fill="#000"/>
<path d="M390.10,517.64 L400.90,508.78 L400.90,511.98 L390.10,520.84 Z" fill="#000"/>
<path d="M390.10,526.64 L400.90,517.78 L400.90,520.98 L390.10,529.84 Z" fill="#000"/>
<path d="M390.10,535.64 L400.90,526.78 L400.90,529.98 L390.10,538.84 Z" fill="#000"/>
<path d="M390.10,544.64 L400.90,535.78 L400.90,538.98 L390.10,547.84 Z" fill="#000"/>
<path d="M390.10,553.64 L400.90,544.78 L400.90,547.98 L390.10,556.84 Z" fill="#000"/>
<path d="M390.10,562.64 L400.90,553.78 L400.90,556.98 L390.10,565.84 Z" fill="#000"/>
<path d="M390.10,571.64 L400.90,562.78 L400.90,565.98 L390.10,574.84 Z" fill="#000"/>
<path d="M390.10,580.64 L400.90,571.78 L400.90,574.98 L390.10,583.84 Z" fill="#000"/>
<path d="M390.10,589.64 L400.90,580.78 L400.90,583.98 L390.10,592.84 Z" fill="#000"/>
</g>
<rect x="390.65" y="404.15" width="9.70" height="168.35" fill="none" stroke="#0c0c0c" stroke-width="1.1"/>
<path d="M390.10,410.40 H400.90" stroke="#0c0c0c" stroke-width="1.0"/>
<path d="M390.10,510.00 H400.90" stroke="#0c0c0c" stroke-width="1.0"/>
<rect x="444.7" y="417.70" width="6.8" height="6.8" fill="#000" stroke="#111"/>
<text class="c" x="454" y="427.60">MEG/MIX</text>
<rect x="444.7" y="438.85" width="6.8" height="6.8" fill="#fff" stroke="#111"/>
<text class="c" x="454" y="448.75">MEG</text>
<rect x="444.7" y="460.00" width="6.8" height="6.8" fill="#5c5c5c" stroke="#111"/>
<text class="c" x="454" y="469.90">GEMM</text>
<rect x="444.7" y="481.15" width="6.8" height="6.8" fill="#fff" stroke="#111"/>
<rect x="447.5" y="483.95" width="1.2" height="1.2" fill="#333"/>
<text class="c" x="454" y="491.05">BFU-E</text>
<rect x="444.7" y="502.30" width="6.8" height="6.8" fill="#fff" stroke="#111"/>
<path d="M445.2,509.10 L451.5,503.50 V509.10 Z" fill="#000"/>
<text class="c" x="454" y="512.20">CFU-M</text>
<rect x="444.7" y="523.45" width="6.8" height="6.8" fill="#ddd" stroke="#111"/>
<path d="M446.4,523.45 v6.8 M448.1,523.45 v6.8 M449.8,523.45 v6.8" stroke="#333" stroke-width="0.8"/>
<text class="c" x="454" y="533.35">CFU-GM</text>
<rect x="444.7" y="544.60" width="6.8" height="6.8" fill="#d3d3d3" stroke="#111"/>
<text class="c" x="454" y="554.50">CFU-G</text>
</svg></body></html>
